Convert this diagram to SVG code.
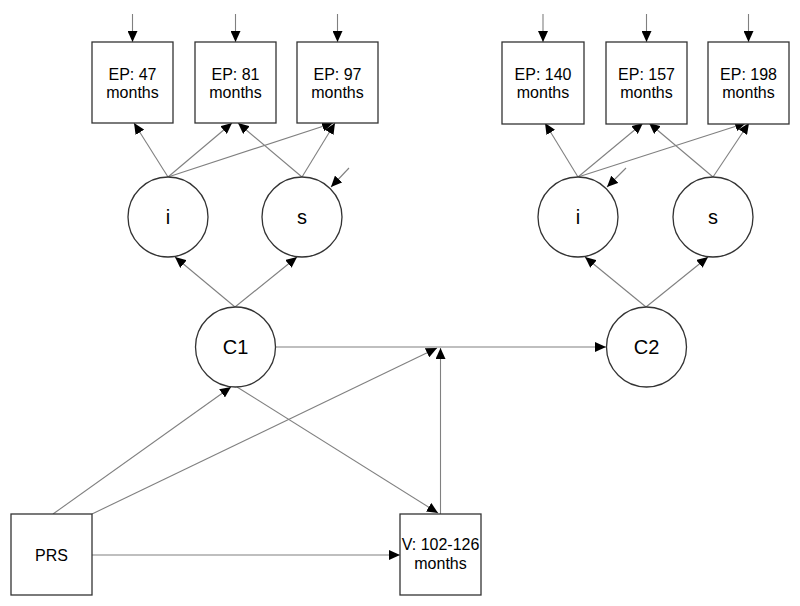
<svg xmlns="http://www.w3.org/2000/svg" width="800" height="606" viewBox="0 0 800 606">
<style>
.box{fill:#fff;stroke:#333;stroke-width:1.3}
.ell{fill:#fff;stroke:#333;stroke-width:1.3}
.c{fill:none;stroke:#808080;stroke-width:1.1;marker-end:url(#ah)}
.t{font-family:"Liberation Sans",Arial,sans-serif;font-size:16px;fill:#000;text-anchor:middle}
.tc{font-family:"Liberation Sans",Arial,sans-serif;font-size:20px;fill:#000;text-anchor:middle}
</style>
<defs>
<marker id="ah" markerUnits="userSpaceOnUse" markerWidth="11" markerHeight="10" refX="11" refY="5" orient="auto">
<path d="M0,0 L11,5 L0,10 z" fill="#000"/>
</marker>
</defs>
<rect width="800" height="606" fill="#fff"/>
<g id="connectors">
<line class="c" x1="132.5" y1="14" x2="132.5" y2="42"/>
<line class="c" x1="235.5" y1="14" x2="235.5" y2="42"/>
<line class="c" x1="337.5" y1="14" x2="337.5" y2="42"/>
<line class="c" x1="543" y1="14" x2="543" y2="42"/>
<line class="c" x1="646.5" y1="14" x2="646.5" y2="42"/>
<line class="c" x1="748.5" y1="14" x2="748.5" y2="42"/>
<line class="c" x1="168" y1="177" x2="134" y2="123"/>
<line class="c" x1="168" y1="177" x2="232" y2="123"/>
<line class="c" x1="302" y1="177" x2="238" y2="123"/>
<line class="c" x1="168" y1="177" x2="333" y2="123"/>
<line class="c" x1="302" y1="177" x2="335" y2="123"/>
<line class="c" x1="578" y1="177" x2="545" y2="123"/>
<line class="c" x1="578" y1="177" x2="643" y2="123"/>
<line class="c" x1="713" y1="177" x2="649" y2="123"/>
<line class="c" x1="578" y1="177" x2="746" y2="123"/>
<line class="c" x1="713" y1="177" x2="749" y2="123"/>
<line class="c" x1="349" y1="168" x2="331" y2="187"/>
<line class="c" x1="626" y1="168" x2="607" y2="187"/>
<line class="c" x1="235" y1="307" x2="175" y2="257"/>
<line class="c" x1="235" y1="307" x2="297" y2="257"/>
<line class="c" x1="646" y1="307" x2="585" y2="257"/>
<line class="c" x1="646" y1="307" x2="708" y2="257"/>
<line class="c" x1="276" y1="347" x2="606" y2="347"/>
<line class="c" x1="53" y1="514" x2="231" y2="387"/>
<line class="c" x1="92" y1="514" x2="437" y2="348"/>
<line class="c" x1="237" y1="387" x2="438" y2="513"/>
<line class="c" x1="440.5" y1="514" x2="440.5" y2="348"/>
<line class="c" x1="92" y1="555" x2="400" y2="555"/>
</g>
<g id="ep47"><rect class="box" x="92" y="42" width="81" height="81"/><text class="t" x="132.5" y="80">EP: 47</text><text class="t" x="132.5" y="98">months</text></g>
<g id="ep81"><rect class="box" x="195" y="42" width="81" height="81"/><text class="t" x="235.5" y="80">EP: 81</text><text class="t" x="235.5" y="98">months</text></g>
<g id="ep97"><rect class="box" x="297" y="42" width="81" height="81"/><text class="t" x="337.5" y="80">EP: 97</text><text class="t" x="337.5" y="98">months</text></g>
<g id="ep140"><rect class="box" x="502" y="42" width="82" height="82"/><text class="t" x="543" y="80">EP: 140</text><text class="t" x="543" y="98">months</text></g>
<g id="ep157"><rect class="box" x="606" y="42" width="81" height="82"/><text class="t" x="646.5" y="80">EP: 157</text><text class="t" x="646.5" y="98">months</text></g>
<g id="ep198"><rect class="box" x="708" y="42" width="81" height="82"/><text class="t" x="748.5" y="80">EP: 198</text><text class="t" x="748.5" y="98">months</text></g>
<g id="i1"><circle class="ell" cx="168" cy="217" r="40"/><text class="tc" x="168" y="224">i</text></g>
<g id="s1"><circle class="ell" cx="302" cy="217" r="40"/><text class="tc" x="302" y="224">s</text></g>
<g id="i2"><circle class="ell" cx="578" cy="217" r="40"/><text class="tc" x="578" y="224">i</text></g>
<g id="s2"><circle class="ell" cx="713" cy="217" r="40"/><text class="tc" x="713" y="224">s</text></g>
<g id="c1"><circle class="ell" cx="235.5" cy="347" r="40"/><text class="tc" x="235.5" y="354">C1</text></g>
<g id="c2"><circle class="ell" cx="646.5" cy="347" r="40"/><text class="tc" x="646.5" y="354">C2</text></g>
<g id="prs"><rect class="box" x="11" y="514" width="81" height="81"/><text class="t" x="51.5" y="561">PRS</text></g>
<g id="v"><rect class="box" x="400" y="514" width="81" height="81"/><text class="t" x="440.5" y="550">V: 102-126</text><text class="t" x="440.5" y="569">months</text></g>
</svg>
